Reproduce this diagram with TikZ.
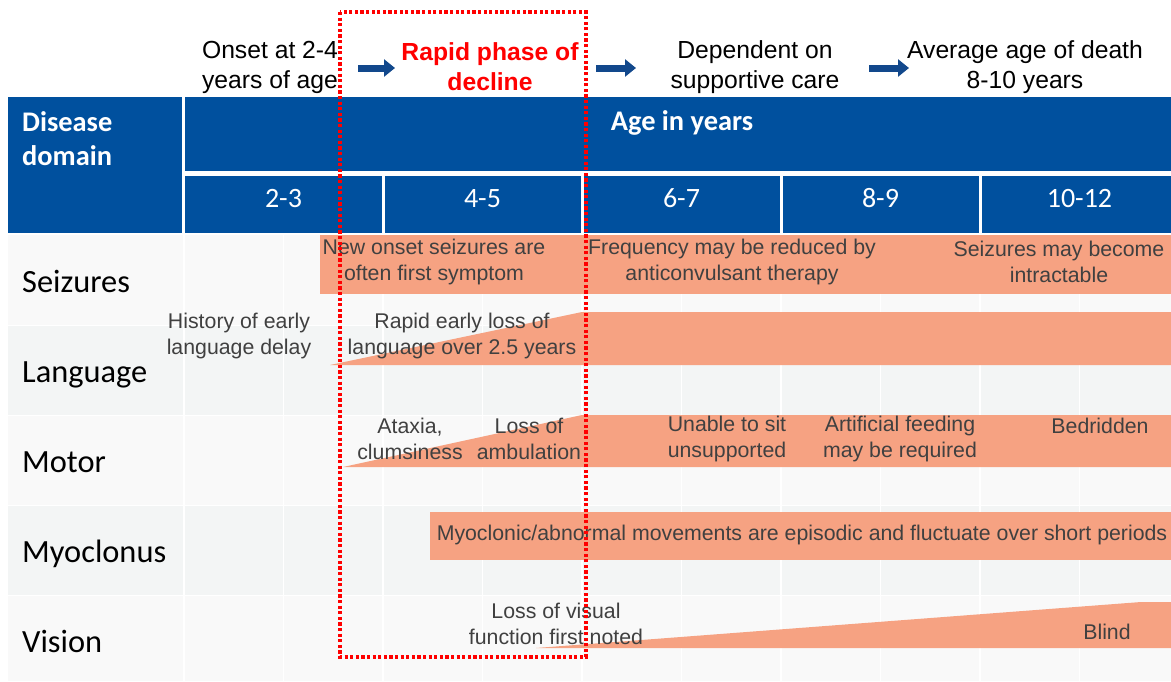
\documentclass[tikz,border=0pt]{standalone}
\usepackage{fontspec}
\setmainfont{Liberation Sans}
\newfontfamily\calib{Carlito}
\usetikzlibrary{arrows.meta}
\definecolor{hdrblue}{RGB}{0,80,158}
\definecolor{arrblue}{RGB}{18,72,140}
\definecolor{salmon}{RGB}{246,162,130}
\definecolor{rowA}{RGB}{249,249,249}
\definecolor{rowB}{RGB}{243,245,245}
\definecolor{txtgray}{RGB}{64,64,64}
\begin{document}
\begin{tikzpicture}[x=1pt,y=-1pt,
  bodytxt/.style={text=txtgray,font=\fontsize{21.3}{26}\selectfont,align=center,inner sep=0pt},
  toptxt/.style={text=black,font=\fontsize{24.7}{30}\selectfont,align=center,inner sep=0pt},
  redtxt/.style={text=red,font=\bfseries\fontsize{24.7}{30}\selectfont,align=center,inner sep=0pt},
  rowlbl/.style={anchor=base west,inner sep=0pt,font=\calib\fontsize{32.4}{36}\selectfont,text=black},
  hdrtxt/.style={inner sep=0pt,text=white,font=\calib\bfseries\fontsize{28.4}{34}\selectfont},
  coltxt/.style={inner sep=0pt,text=white,font=\calib\fontsize{28}{30}\selectfont,anchor=base},
  bar/.style={fill=salmon},
  gridln/.style={white,line width=1.5pt},
  toparrow/.style={arrblue,line width=7pt,-{Triangle[width=17pt,length=11pt]}},
  decbox/.style={draw=red,line width=3.4pt,dash pattern=on 3.2pt off 2.4pt}
]
\fill[white] (0,0) rectangle (1171,681);
\useasboundingbox (0,0) rectangle (1171,681);

% body rows
\fill[rowA] (8,235) rectangle (1171,325);
\fill[rowB] (8,325) rectangle (1171,415);
\fill[rowA] (8,415) rectangle (1171,505);
\fill[rowB] (8,505) rectangle (1171,595);
\fill[rowA] (8,595) rectangle (1171,681);
\foreach \k in {0,...,9} \draw[gridln] ({184+99.5*\k},235) -- ({184+99.5*\k},681);
\foreach \y in {325,415,505,595} \draw[white,line width=1pt] (8,\y) -- (1171,\y);

% bars
\fill[bar] (320,235) rectangle (1171,294);
\fill[bar] (330,365) -- (582,312) -- (1171,312) -- (1171,365) -- cycle;
\fill[bar] (343,467) -- (582,415) -- (1171,415) -- (1171,467) -- cycle;
\fill[bar] (430,512) rectangle (1171,560);
\fill[bar] (536,648) -- (1141,602) -- (1171,602) -- (1171,648) -- cycle;

% header
\fill[hdrblue] (8,97) rectangle (182,233);
\fill[hdrblue] (185,97) rectangle (1171,171);
\fill[hdrblue] (185,176) rectangle (382,233);
\fill[hdrblue] (384.5,176) rectangle (581,233);
\fill[hdrblue] (583.5,176) rectangle (780,233);
\fill[hdrblue] (782.5,176) rectangle (979,233);
\fill[hdrblue] (981.5,176) rectangle (1171,233);
\node[hdrtxt,align=left,anchor=west] (dd) at (22,139) {Disease\\domain};
\node[hdrtxt,anchor=base] (age) at (682,130) {Age in years};
\node[coltxt] (c1) at (283.5,207) {2-3};
\node[coltxt] (c2) at (482.5,207) {4-5};
\node[coltxt] (c3) at (681.5,207) {6-7};
\node[coltxt] (c4) at (880.5,207) {8-9};
\node[coltxt] (c5) at (1079.5,207) {10-12};

% row labels
\node[rowlbl] (l1) at (22,292) {Seizures};
\node[rowlbl] (l2) at (22,382) {Language};
\node[rowlbl] (l3) at (22,472) {Motor};
\node[rowlbl] (l4) at (22,562) {Myoclonus};
\node[rowlbl] (l5) at (22,652) {Vision};

% top phases
\node[toptxt] (p1) at (270,67) {Onset at 2-4\\years of age};
\node[redtxt] (p2) at (490,67) {Rapid phase of\\decline};
\node[toptxt] (p3) at (755,67) {Dependent on\\supportive care};
\node[toptxt] (p4) at (1025,67) {Average age of death\\8-10 years};
\coordinate (a1s) at (358,68); \coordinate (a1e) at (395,68);
\coordinate (a2s) at (596,68); \coordinate (a2e) at (636,68);
\coordinate (a3s) at (869,68); \coordinate (a3e) at (909,68);
\draw[toparrow] (a1s) -- (a1e);
\draw[toparrow] (a2s) -- (a2e);
\draw[toparrow] (a3s) -- (a3e);

% body texts
\node[bodytxt] (s1) at (434,262) {New onset seizures are\\often first symptom};
\node[bodytxt] (s2) at (732,262) {Frequency may be reduced by\\anticonvulsant therapy};
\node[bodytxt] (s3) at (1059,262) {Seizures may become\\intractable};
\node[bodytxt] (g1) at (239,336) {History of early\\language delay};
\node[bodytxt] (g2) at (462,336) {Rapid early loss of\\language over 2.5 years};
\node[bodytxt] (m1) at (410,439) {Ataxia,\\clumsiness};
\node[bodytxt] (m2) at (529,439) {Loss of\\ambulation};
\node[bodytxt] (m3) at (727,439) {Unable to sit\\unsupported};
\node[bodytxt] (m4) at (900,439) {Artificial feeding\\may be required};
\node[bodytxt] (m5) at (1100,426) {Bedridden};
\node[bodytxt] (y1) at (802,535) {Myoclonic/abnormal movements are episodic and fluctuate over short periods};
\node[bodytxt] (v1) at (556,624) {Loss of visual\\function first noted};
\node[bodytxt] (v2) at (1107,632) {Blind};

% highlight box
\draw[decbox] (340,12) rectangle (586,657);
\end{tikzpicture}
\end{document}
